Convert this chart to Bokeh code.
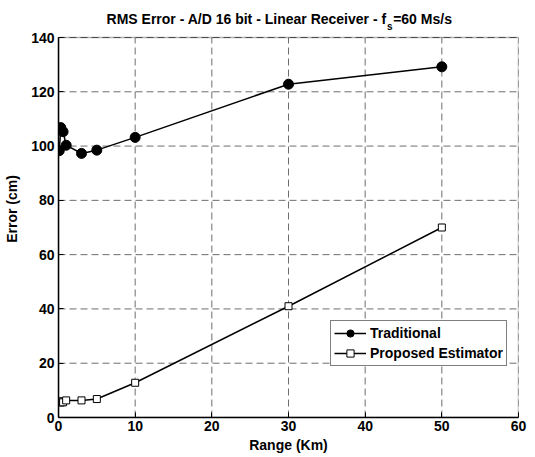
from bokeh.plotting import figure
from bokeh.models import Label, Legend, LegendItem, Range1d, FixedTicker, BoxAnnotation
from bokeh.embed import file_html
from bokeh.resources import INLINE

# Data
range_km = [0.1, 0.3, 0.6, 1, 3, 5, 10, 30, 50]
traditional = [98.3, 106.8, 105.3, 100.3, 97.3, 98.5, 103.2, 122.8, 129.2]
proposed = [6.0, 5.5, 5.6, 6.3, 6.3, 6.8, 12.8, 41.0, 70.0]
x_ticks = [0, 10, 20, 30, 40, 50, 60]
y_ticks = [0, 20, 40, 60, 80, 100, 120, 140]

FONT = "Liberation Sans"
X_MAX = 60
Y_MAX = 140
# the plot frame extends above the axes box to hold the title text
Y_TOP = Y_MAX * 417 / 380

p = figure(width=535, height=457, output_backend="svg", toolbar_location=None,
           x_range=Range1d(0, X_MAX), y_range=Range1d(0, Y_TOP),
           min_border_left=58, min_border_right=17, min_border_top=0,
           min_border_bottom=40)
p.background_fill_color = "white"
p.border_fill_color = "white"
p.outline_line_color = None
p.grid.visible = False

# dashed grid, limited to the axes box
p.segment(x0=x_ticks, y0=[0] * len(x_ticks), x1=x_ticks, y1=[Y_MAX] * len(x_ticks),
          line_color="#6e6e6e", line_dash="7 4", line_width=1, level="underlay")
p.segment(x0=[0] * len(y_ticks), y0=y_ticks, x1=[X_MAX] * len(y_ticks), y1=y_ticks,
          line_color="#6e6e6e", line_dash="7 4", line_width=1, level="underlay")

for ax, ticks in ((p.xaxis[0], x_ticks), (p.yaxis[0], y_ticks)):
    ax.ticker = FixedTicker(ticks=ticks)
    ax.major_label_text_font = FONT
    ax.major_label_text_font_style = "bold"
    ax.major_label_text_font_size = "14px"
    ax.major_label_text_color = "black"
    ax.axis_label_text_font = FONT
    ax.axis_label_text_font_style = "bold"
    ax.axis_label_text_font_size = "14px"
    ax.axis_label_text_color = "black"
    ax.major_tick_in = 5
    ax.major_tick_out = 0
    ax.minor_tick_line_color = None
    ax.axis_line_color = "black"
    ax.axis_line_width = 1.5
    ax.major_tick_line_color = "black"

p.yaxis.bounds = (0, Y_MAX)
p.xaxis.axis_label = "Range (Km)"
p.yaxis.axis_label = "Error (cm)"
p.xaxis.major_label_standoff = 3
p.xaxis.axis_label_standoff = 3
p.yaxis.major_label_standoff = 4
p.yaxis.axis_label_standoff = 8

# box around the axes
p.add_layout(BoxAnnotation(left=0, right=X_MAX, bottom=0, top=Y_MAX,
                           fill_alpha=0, line_color="black", line_width=1.5,
                           level="underlay"))

l1 = p.line(range_km, traditional, line_color="black", line_width=1.5)
s1 = p.scatter(range_km, traditional, marker="circle", size=10,
               fill_color="black", line_color="black")
l2 = p.line(range_km, proposed, line_color="black", line_width=1.5)
s2 = p.scatter(range_km, proposed, marker="square", size=7,
               fill_color="white", line_color="black", line_width=1)

legend = Legend(items=[LegendItem(label="Traditional", renderers=[l1, s1]),
                       LegendItem(label="Proposed Estimator", renderers=[l2, s2])],
                location=(272, 51))
legend.label_text_font = FONT
legend.label_text_font_style = "bold"
legend.label_text_font_size = "14px"
legend.label_text_color = "black"
legend.glyph_width = 32
legend.glyph_height = 18
legend.label_height = 18
legend.label_standoff = 4
legend.spacing = 2
legend.padding = 3
legend.margin = 0
legend.border_line_color = "black"
legend.border_line_width = 1
legend.background_fill_color = "white"
legend.background_fill_alpha = 1
p.add_layout(legend)

# Title with subscript
title_kw = dict(text_font=FONT, text_font_style="bold", text_color="black",
                text_baseline="alphabetic")
p.add_layout(Label(x=42.8, y=146.9, text="RMS Error - A/D 16 bit - Linear Receiver - f",
                   text_align="right", text_font_size="14px", **title_kw))
p.add_layout(Label(x=42.85, y=143.9, text="s", text_align="left",
                   text_font_size="10px", **title_kw))
p.add_layout(Label(x=43.65, y=146.9, text="=60 Ms/s", text_align="left",
                   text_font_size="14px", **title_kw))

open("out.html", "w").write(file_html(p, INLINE))
